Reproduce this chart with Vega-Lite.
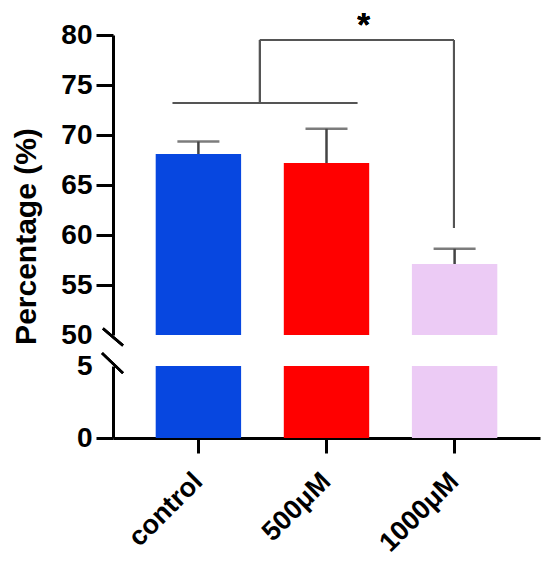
{
  "$schema": "https://vega.github.io/schema/vega-lite/v6.json",
  "background": "white",
  "padding": {"left": 11, "top": 9, "right": 5, "bottom": 5},
  "bounds": "flush",
  "spacing": 31,
  "config": {
    "view": {"stroke": null},
    "font": "Liberation Sans",
    "axis": {
      "grid": false,
      "domainColor": "black",
      "domainWidth": 3,
      "tickColor": "black",
      "tickWidth": 3,
      "tickSize": 17,
      "labelFont": "Liberation Sans",
      "labelFontWeight": "bold",
      "labelFontSize": 28,
      "labelColor": "black",
      "labelPadding": 4
    }
  },
  "data": {
    "values": [
      {"group": "control", "mean": 68.1, "upper": 69.35},
      {"group": "500μM", "mean": 67.2, "upper": 70.62},
      {"group": "1000μM", "mean": 57.1, "upper": 58.62}
    ]
  },
  "vconcat": [
    {
      "width": 427,
      "height": 300,
      "resolve": {"scale": {"x": "independent"}, "axis": {"x": "independent"}},
      "encoding": {
        "y": {
          "type": "quantitative",
          "scale": {"domain": [50, 80], "nice": false, "zero": false},
          "axis": {
            "values": [50, 55, 60, 65, 70, 75, 80],
            "tickOpacity": {"condition": {"test": "datum.value == 50", "value": 0}, "value": 1},
            "title": "Percentage (%)",
            "titleFont": "Liberation Sans",
            "titleFontWeight": "bold",
            "titleFontSize": 30,
            "titleColor": "black",
            "titleAngle": -90,
            "titleX": -78,
            "titleY": 201,
            "titleAlign": "center",
            "titleBaseline": "alphabetic"
          }
        }
      },
      "layer": [
        {
          "mark": {"type": "bar"},
          "encoding": {
            "x": {"field": "group", "type": "nominal", "sort": ["control", "500μM", "1000μM"], "scale": {"paddingInner": 0.3333, "paddingOuter": 0.3333}, "axis": null},
            "y": {"field": "mean", "type": "quantitative"},
            "y2": {"datum": 50},
            "color": {"field": "group", "type": "nominal", "scale": {"domain": ["control", "500μM", "1000μM"], "range": ["#0747E0", "#FF0000", "#ECCBF5"]}, "legend": null}
          }
        },
        {
          "mark": {"type": "rule", "color": "#444444", "strokeWidth": 2.5},
          "encoding": {
            "x": {"field": "group", "type": "nominal", "sort": ["control", "500μM", "1000μM"], "scale": {"paddingInner": 0.3333, "paddingOuter": 0.3333}, "axis": null},
            "y": {"field": "mean", "type": "quantitative"},
            "y2": {"field": "upper"}
          }
        },
        {
          "mark": {"type": "tick", "color": "#444444", "thickness": 2.5, "size": 42},
          "encoding": {
            "x": {"field": "group", "type": "nominal", "sort": ["control", "500μM", "1000μM"], "scale": {"paddingInner": 0.3333, "paddingOuter": 0.3333}, "axis": null},
            "y": {"field": "upper", "type": "quantitative"}
          }
        },
        {
          "mark": {"type": "rule", "color": "#555555", "strokeWidth": 2},
          "encoding": {
            "x": {"datum": -0.2, "type": "quantitative", "scale": {"domain": [-0.6667, 2.6667], "nice": false, "zero": false}, "axis": null},
            "x2": {"datum": 1.24},
            "y": {"datum": 73.2}
          }
        },
        {
          "mark": {"type": "rule", "color": "#555555", "strokeWidth": 2},
          "encoding": {
            "x": {"datum": 0.48, "type": "quantitative", "scale": {"domain": [-0.6667, 2.6667], "nice": false, "zero": false}, "axis": null},
            "y": {"datum": 73.2},
            "y2": {"datum": 79.5}
          }
        },
        {
          "mark": {"type": "rule", "color": "#555555", "strokeWidth": 2},
          "encoding": {
            "x": {"datum": 0.48, "type": "quantitative", "scale": {"domain": [-0.6667, 2.6667], "nice": false, "zero": false}, "axis": null},
            "x2": {"datum": 1.995},
            "y": {"datum": 79.5}
          }
        },
        {
          "mark": {"type": "rule", "color": "#555555", "strokeWidth": 2},
          "encoding": {
            "x": {"datum": 1.995, "type": "quantitative", "scale": {"domain": [-0.6667, 2.6667], "nice": false, "zero": false}, "axis": null},
            "y": {"datum": 79.5},
            "y2": {"datum": 60.7}
          }
        },
        {
          "mark": {"type": "text", "text": "*", "fontSize": 33, "fontWeight": "bold", "font": "Liberation Sans", "color": "black", "baseline": "alphabetic", "align": "center"},
          "encoding": {
            "x": {"datum": 1.29, "type": "quantitative", "scale": {"domain": [-0.6667, 2.6667], "nice": false, "zero": false}, "axis": null},
            "y": {"datum": 79.9}
          }
        },
        {
          "mark": {"type": "rule", "color": "black", "strokeWidth": 2.5},
          "encoding": {
            "x": {"datum": -0.745, "type": "quantitative", "scale": {"domain": [-0.6667, 2.6667], "nice": false, "zero": false}, "axis": null},
            "x2": {"datum": -0.589},
            "y": {"datum": 50.65},
            "y2": {"datum": 48.95}
          }
        }
      ]
    },
    {
      "width": 427,
      "height": 72,
      "resolve": {"scale": {"x": "independent"}, "axis": {"x": "independent"}},
      "encoding": {
        "y": {
          "type": "quantitative",
          "scale": {"domain": [0, 5], "nice": false},
          "axis": {
            "values": [0, 5],
            "tickOpacity": {"condition": {"test": "datum.value == 5", "value": 0}, "value": 1},
            "title": null
          }
        }
      },
      "layer": [
        {
          "mark": {"type": "bar"},
          "encoding": {
            "x": {
              "field": "group", "type": "nominal", "sort": ["control", "500μM", "1000μM"],
              "scale": {"paddingInner": 0.3333, "paddingOuter": 0.3333},
              "axis": {"title": null, "labelAngle": -45, "labelAlign": "right", "labelBaseline": "middle", "tickSize": 15, "labelPadding": 24, "labelFontSize": 27}
            },
            "y": {"datum": 5},
            "y2": {"datum": 0},
            "color": {"field": "group", "type": "nominal", "scale": {"domain": ["control", "500μM", "1000μM"], "range": ["#0747E0", "#FF0000", "#ECCBF5"]}, "legend": null}
          }
        },
        {
          "mark": {"type": "rule", "color": "black", "strokeWidth": 2.5},
          "encoding": {
            "x": {"datum": -0.752, "type": "quantitative", "scale": {"domain": [-0.6667, 2.6667], "nice": false, "zero": false}, "axis": null},
            "x2": {"datum": -0.589},
            "y": {"datum": 5.9},
            "y2": {"datum": 4.51}
          }
        }
      ]
    }
  ]
}
